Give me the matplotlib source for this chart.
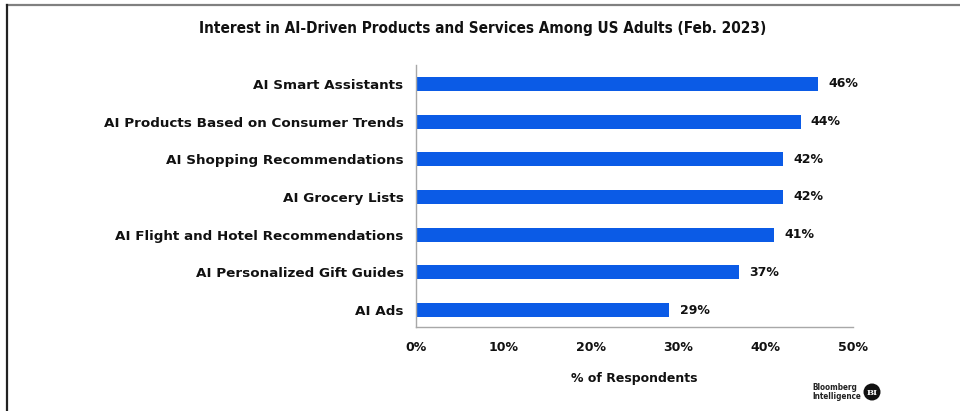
import matplotlib
matplotlib.use("Agg")
import matplotlib.pyplot as plt
from matplotlib.lines import Line2D
from matplotlib.patches import Ellipse

categories = [
    "AI Smart Assistants",
    "AI Products Based on Consumer Trends",
    "AI Shopping Recommendations",
    "AI Grocery Lists",
    "AI Flight and Hotel Recommendations",
    "AI Personalized Gift Guides",
    "AI Ads",
]
values = [46, 44, 42, 42, 41, 37, 29]
x_ticks = [0, 10, 20, 30, 40, 50]
x_tick_labels = ["0%", "10%", "20%", "30%", "40%", "50%"]

body_family = "DejaVu Sans"
ink = "#111111"

W, H = 960, 411
fig = plt.figure(figsize=(W / 100, H / 100), dpi=100)
fig.patch.set_facecolor("white")

# axes placed in pixel terms: x 416..853, y 65..327 (from top)
ax = fig.add_axes([416 / W, 1 - 327 / H, (853 - 416) / W, (327 - 65) / H])

n = len(categories)
ypos = list(range(n))[::-1]
bar_color = "#0b5be6"
ax.barh(ypos, values, height=0.37, color=bar_color, zorder=2)

for y, v in zip(ypos, values):
    ax.text(v + 1.15, y, f"{v}%", va="center", ha="left",
            fontsize=9, fontweight="bold", family=body_family, color=ink)

ax.set_xlim(0, 50)
ax.set_ylim(-0.45, n - 0.5)
ax.set_yticks(ypos)
ax.set_yticklabels(categories, fontsize=9.7, fontweight="bold", family=body_family, color=ink)
ax.set_xticks(x_ticks)
ax.set_xticklabels(x_tick_labels, fontsize=9, fontweight="bold", family=body_family, color=ink)
ax.tick_params(axis="both", length=0)
ax.tick_params(axis="y", pad=9)
ax.tick_params(axis="x", pad=10)
ax.set_xlabel("% of Respondents", fontsize=9, fontweight="bold", family=body_family,
              color=ink, labelpad=13)

for side in ("top", "right"):
    ax.spines[side].set_visible(False)
ax.spines["left"].set_color("#a8a8a8")
ax.spines["bottom"].set_color("#a8a8a8")
ax.spines["left"].set_linewidth(1.0)
ax.spines["bottom"].set_linewidth(1.0)

fig.text(483 / W, 1 - 29 / H, "Interest in AI-Driven Products and Services Among US Adults (Feb. 2023)",
         ha="center", va="center", fontsize=11, fontweight="bold", family="DejaVu Sans",
         fontstretch="condensed", color=ink)

# outer frame: gray top rule and dark left rule
fig.add_artist(Line2D([7 / W, 1], [1 - 5.5 / H, 1 - 5.5 / H], color="#808080", linewidth=1.6,
                      transform=fig.transFigure))
fig.add_artist(Line2D([7 / W, 7 / W], [0, 1 - 5 / H], color="#222222", linewidth=1.6,
                      transform=fig.transFigure))

# Bloomberg Intelligence mark
fig.text(812 / W, 1 - 391.5 / H, "Bloomberg\nIntelligence", ha="left", va="center",
         fontsize=5.9, fontweight="bold", family=body_family, fontstretch="condensed",
         color="#222222", linespacing=1.0)
fig.add_artist(Ellipse((872 / W, 1 - 392 / H), 17 / W, 17 / H, transform=fig.transFigure,
                       facecolor="#111111", edgecolor="none"))
fig.text(872 / W, 1 - 392.5 / H, "BI", ha="center", va="center", fontsize=6,
         fontweight="bold", family="DejaVu Serif", color="white")

fig.savefig("out.png", dpi=100, facecolor="white")
